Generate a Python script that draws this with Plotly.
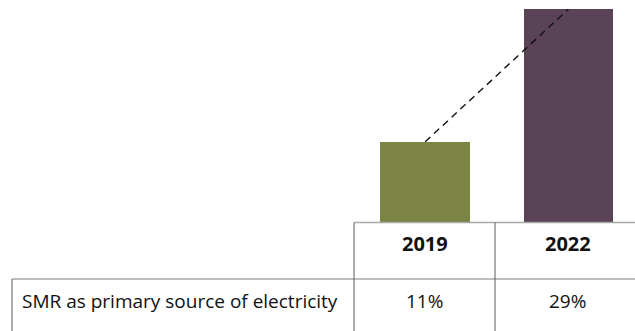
import plotly.graph_objects as go

# Data
years = ["2019", "2022"]
values = [11, 29]
bar_colors = ["#7b8445", "#5a4257"]
row_label = "SMR as primary source of electricity"

W, H = 635, 331
y_base_px = 222.7           # pixel row of the bar baseline
px_per_unit = 81 / 11.0
y_range = [(y_base_px - H) / px_per_unit, y_base_px / px_per_unit]

# x mapping: category index i -> pixel 425.2 + 143.2*i
cx0, dx = 425.2, 143.2
x_range = [-cx0 / dx, (W - cx0) / dx]

fig = go.Figure()
fig.add_trace(go.Bar(
    x=years, y=values, marker=dict(color=bar_colors, line=dict(width=0)),
    width=0.625, hoverinfo="skip", showlegend=False,
))
fig.add_trace(go.Scatter(
    x=years, y=values, mode="lines",
    line=dict(color="#111111", width=1.4, dash="7px,5px"),
    hoverinfo="skip", showlegend=False,
))

def px_x(p):
    return p / W

def px_y(p):
    return 1 - p / H

h_col = "#a8a8a8"
v_col = "#5a5a5a"
y_top = 222.5
y_row = 279
x_left, x_c1, x_c2 = 12, 354, 495

shapes = [
    dict(type="line", xref="paper", yref="paper", x0=px_x(x_c1), x1=1, y0=px_y(y_top), y1=px_y(y_top),
         line=dict(color=h_col, width=1.5)),
    dict(type="line", xref="paper", yref="paper", x0=px_x(x_left), x1=1, y0=px_y(y_row), y1=px_y(y_row),
         line=dict(color=h_col, width=1.5)),
    dict(type="line", xref="paper", yref="paper", x0=px_x(x_c1), x1=px_x(x_c1), y0=px_y(y_top), y1=0,
         line=dict(color=v_col, width=1)),
    dict(type="line", xref="paper", yref="paper", x0=px_x(x_c2), x1=px_x(x_c2), y0=px_y(y_top), y1=0,
         line=dict(color=v_col, width=1)),
    dict(type="line", xref="paper", yref="paper", x0=px_x(x_left), x1=px_x(x_left), y0=px_y(y_row), y1=0,
         line=dict(color=v_col, width=1)),
]

font_family = "Open Sans, Noto Sans, sans-serif"
annotations = []
col_centers = [424.5, 567.5]
for i, (yr, v) in enumerate(zip(years, values)):
    annotations.append(dict(
        x=px_x(col_centers[i]), y=px_y(243.5), xref="paper", yref="paper",
        text=f"<b>{yr}</b>", showarrow=False, xanchor="center", yanchor="middle",
        font=dict(family=font_family, size=20, color="#111111"),
    ))
    annotations.append(dict(
        x=px_x(col_centers[i]), y=px_y(300.5), xref="paper", yref="paper",
        text=f"{v}%", showarrow=False, xanchor="center", yanchor="middle",
        font=dict(family=font_family, size=19, color="#111111"),
    ))
annotations.append(dict(
    x=px_x(20), y=px_y(300.5), xref="paper", yref="paper",
    text=row_label, showarrow=False, xanchor="left", yanchor="middle",
    font=dict(family=font_family, size=19, color="#111111"),
))

fig.update_layout(
    width=W, height=H,
    margin=dict(l=0, r=0, t=0, b=0, pad=0),
    paper_bgcolor="white", plot_bgcolor="white",
    xaxis=dict(range=x_range, visible=False, fixedrange=True),
    yaxis=dict(range=y_range, visible=False, fixedrange=True),
    shapes=shapes, annotations=annotations,
    bargap=0,
)

fig.write_html("out.html", config={"displayModeBar": False},
               post_script="document.body.style.margin='0';")
